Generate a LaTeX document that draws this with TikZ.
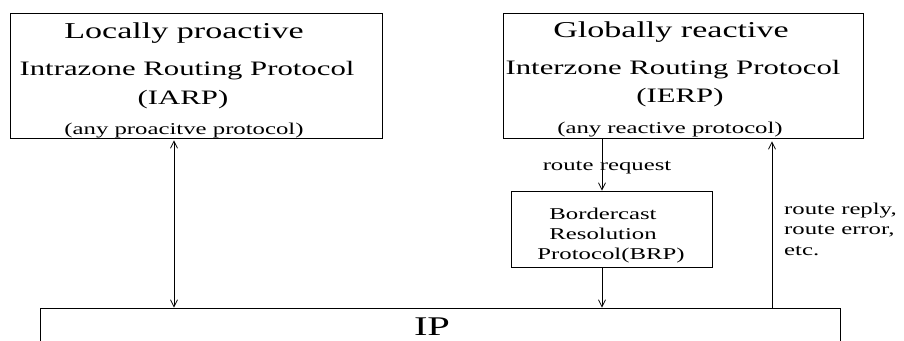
\documentclass[tikz,border=0pt]{standalone}
\usepackage{fontspec}
\setmainfont[FakeStretch=1.5]{Liberation Serif}
\usetikzlibrary{arrows.meta}
\tikzset{
  box/.style={draw, line width=0.8pt, rectangle, inner sep=0pt},
  txt/.style={anchor=base, inner sep=0pt},
  big/.style={font=\fontsize{22.7}{24}\selectfont},
  mid/.style={font=\fontsize{20.5}{22}\selectfont},
  small/.style={font=\fontsize{16.5}{20}\selectfont},
  conn/.style={line width=0.8pt, -{Straight Barb[length=7pt,width=7pt]}},
  dconn/.style={line width=0.8pt, {Straight Barb[length=7pt,width=7pt]}-{Straight Barb[length=7pt,width=7pt]}}
}
\begin{document}
\begin{tikzpicture}[x=1pt,y=-1pt]
\clip (0,0) rectangle (904,340);
\fill[white] (0,0) rectangle (904,340);
% boxes
\node[box, minimum width=372pt, minimum height=125pt] (lb) at (196,75.5) {};
\node[box, minimum width=360pt, minimum height=125pt] (rb) at (683,75.5) {};
\node[box, minimum width=201pt, minimum height=76pt] (brp) at (611.5,229) {};
\node[box, minimum width=800pt, minimum height=60pt] (ipbox) at (440,338) {};
% left box text
\node[txt, big] (l1) at (184,38) {Locally proactive};
\node[txt, mid] (l2) at (187,75) {Intrazone Routing Protocol};
\node[txt, mid] (l3) at (183,104) {(IARP)};
\node[txt, small] (l4) at (184,134) {(any proacitve protocol)};
% right box text
\node[txt, big] (r1) at (671,37) {Globally reactive};
\node[txt, mid] (r2) at (673,74) {Interzone Routing Protocol};
\node[txt, mid] (r3) at (680,102) {(IERP)};
\node[txt, small] (r4) at (670,133) {(any reactive protocol)};
% BRP text
\node[txt, small] (b1) at (603,219) {Bordercast};
\node[txt, small] (b2) at (603,239) {Resolution};
\node[txt, small] (b3) at (611,259) {Protocol(BRP)};
% IP text
\node[txt, font=\fontsize{27}{28}\selectfont] (ip) at (432,335) {IP};
% labels
\node[txt, small] (rq) at (607,170) {route request};
\node[txt, small, anchor=base west] (rr1) at (784,214) {route reply,};
\node[txt, small, anchor=base west] (rr2) at (784,234) {route error,};
\node[txt, small, anchor=base west] (rr3) at (784,255) {etc.};
% connectors
\coordinate (xa) at (174,0);
\coordinate (xb) at (602,0);
\coordinate (xc) at (772,0);
\draw[dconn, shorten <=2pt] (lb.south -| xa) -- (ipbox.north -| xa);
\draw[conn] (rb.south -| xb) -- (brp.north -| xb);
\draw[conn] (brp.south -| xb) -- (ipbox.north -| xb);
\draw[conn, shorten >=3pt] (ipbox.north -| xc) -- (rb.south -| xc);
\end{tikzpicture}
\end{document}
